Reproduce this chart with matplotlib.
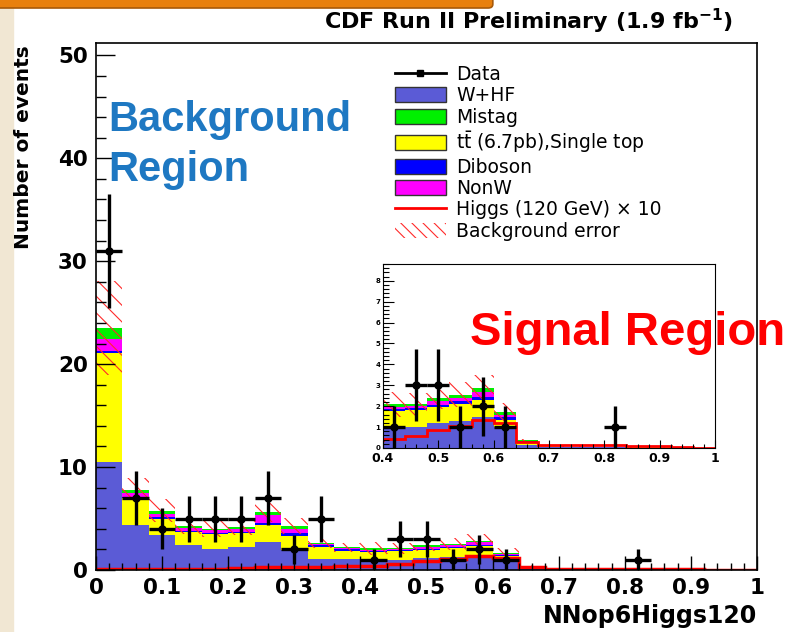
import numpy as np
import matplotlib
matplotlib.use('Agg')
import matplotlib.pyplot as plt
from matplotlib.patches import Patch, Rectangle, FancyBboxPatch
from matplotlib.lines import Line2D
from matplotlib.ticker import MultipleLocator

plt.rcParams['font.family'] = 'DejaVu Sans'
plt.rcParams['hatch.linewidth'] = 0.8

# 25 bins of 0.04 over NN output [0, 1]
edges = np.linspace(0, 1, 26)

whf = [10.5, 4.4, 3.4, 2.4, 2.05, 2.25, 2.75, 1.95, 1.05, 1.1, 1.0, 1.0, 1.2,
       1.3, 1.5, 1.0, 0.15, 0.05, 0.03, 0.03, 0.03, 0.02, 0.02, 0.01, 0.01]
ttbar = [10.6, 2.55, 1.6, 1.3, 1.4, 1.3, 1.65, 1.4, 1.2, 0.75, 0.75, 0.8, 0.75,
         0.8, 0.8, 0.36, 0.15, 0.04, 0.02, 0.02, 0.02, 0.01, 0.01, 0.01, 0.0]
diboson = [0.2, 0.15, 0.12, 0.1, 0.12, 0.13, 0.2, 0.2, 0.15, 0.15, 0.1, 0.1, 0.1,
           0.15, 0.15, 0.1, 0.02, 0.01, 0.01, 0.0, 0.0, 0.0, 0.0, 0.0, 0.0]
nonw = [1.1, 0.4, 0.28, 0.3, 0.28, 0.27, 0.7, 0.4, 0.1, 0.1, 0.1, 0.1, 0.2,
        0.15, 0.25, 0.14, 0.02, 0.01, 0.0, 0.0, 0.0, 0.0, 0.0, 0.0, 0.0]
mistag = [1.1, 0.3, 0.35, 0.18, 0.18, 0.25, 0.35, 0.33, 0.15, 0.1, 0.15, 0.1, 0.15,
          0.15, 0.15, 0.1, 0.02, 0.01, 0.01, 0.01, 0.01, 0.0, 0.0, 0.0, 0.0]
bkg_err = [4.6, 1.1, 1.1, 0.8, 0.8, 0.8, 1.0, 0.8, 0.5, 0.45, 0.6, 0.55, 0.55,
           0.6, 0.65, 0.45, 0.08, 0.02, 0.01, 0.01, 0.01, 0.01, 0.01, 0.0, 0.0]
higgs_x10 = [0.08, 0.08, 0.08, 0.08, 0.08, 0.15, 0.28, 0.3, 0.3, 0.38, 0.42, 0.58, 0.85,
             1.05, 1.35, 1.2, 0.3, 0.13, 0.13, 0.13, 0.13, 0.08, 0.08, 0.04, 0.01]
data = [31, 7, 4, 5, 5, 5, 7, 2, 5, 0, 1, 3, 3,
        1, 2, 1, 0, 0, 0, 0, 1, 0, 0, 0, 0]

xtick_labels = ['0', '0.1', '0.2', '0.3', '0.4', '0.5', '0.6', '0.7', '0.8', '0.9', '1']
inset_xlabels = ['0.4', '0.5', '0.6', '0.7', '0.8', '0.9', '1']

c_whf = '#5b5bd6'
c_mis = '#00f000'
c_tt = '#ffff00'
c_dib = '#0000ff'
c_nonw = '#ff00ff'
c_err = '#ff2a2a'

stack = [(whf, c_whf), (ttbar, c_tt), (diboson, c_dib), (nonw, c_nonw), (mistag, c_mis)]


def draw(ax, lw_h, lw_d, ms):
    left = edges[:-1]
    bottom = np.zeros(len(left))
    for vals, col in stack:
        vals = np.array(vals)
        ax.bar(left, vals, width=0.04, bottom=bottom, align='edge', color=col, lw=0)
        bottom = bottom + vals
    err = np.array(bkg_err)
    ax.bar(left, 2 * err, width=0.04, bottom=bottom - err, align='edge', fill=False,
           hatch='\\\\', edgecolor=c_err, lw=0)
    ax.stairs(higgs_x10, edges, color='red', lw=lw_h)
    d = np.array(data, dtype=float)
    cen = 0.5 * (edges[1:] + edges[:-1])
    m = d > 0
    ax.errorbar(cen[m], d[m], xerr=0.02, yerr=np.sqrt(d[m]), fmt='o', color='k',
                ms=ms, elinewidth=lw_d, capsize=0, zorder=5)


fig = plt.figure(figsize=(7.86, 6.32), dpi=100)

# slide decorations
fig.patches.append(Rectangle((0, 0), 13 / 786, 1, transform=fig.transFigure,
                             color='#f1e7d3', zorder=0))
fig.patches.append(FancyBboxPatch((-0.01, 1 - 8 / 632), 0.637, 0.05,
                                  boxstyle='round,pad=0,rounding_size=0.006',
                                  transform=fig.transFigure, fc='#e8800e',
                                  ec='#a85a0a', lw=1.2, zorder=1))

ax = fig.add_axes([96 / 786, 1 - 570 / 632, 661 / 786, 527 / 632])
draw(ax, 2.5, 2.4, 5)
ax.set_xlim(0, 1)
ax.set_ylim(0, 51.2)
ax.set_xticks(np.linspace(0, 1, 11))
ax.set_xticklabels(xtick_labels)
ax.set_yticks([0, 10, 20, 30, 40, 50])
ax.xaxis.set_minor_locator(MultipleLocator(0.02))
ax.yaxis.set_minor_locator(MultipleLocator(2))
ax.tick_params(which='both', direction='in', top=False, right=False, width=1)
ax.tick_params(which='major', axis='y', length=14, pad=6)
ax.tick_params(which='minor', axis='y', length=7)
ax.tick_params(which='major', axis='x', length=10, pad=6)
ax.tick_params(which='minor', axis='x', length=5)
for lab in ax.get_xticklabels() + ax.get_yticklabels():
    lab.set_fontsize(15.5)
    lab.set_fontweight('bold')
for sp in ax.spines.values():
    sp.set_linewidth(1.2)

ax.set_xlabel('NNop6Higgs120', fontsize=17, fontweight='bold', loc='right', labelpad=4)
fig.text(24 / 786, 1 - 45 / 632, 'Number of events', rotation=90, ha='center', va='top',
         fontsize=14.5, fontweight='bold')
fig.text(733 / 786, 1 - 21 / 632, r'CDF Run II Preliminary (1.9 fb$^{\mathbf{-1}}$)',
         ha='right', va='center', fontsize=16, fontweight='bold')

handles = [
    Line2D([0], [0], color='k', marker='s', ms=4, lw=2),
    Patch(facecolor=c_whf, edgecolor='#333333', lw=1),
    Patch(facecolor=c_mis, edgecolor='#333333', lw=1),
    Patch(facecolor=c_tt, edgecolor='#333333', lw=1),
    Patch(facecolor=c_dib, edgecolor='#333333', lw=1),
    Patch(facecolor=c_nonw, edgecolor='#333333', lw=1),
    Line2D([0], [0], color='red', lw=2),
    Patch(facecolor='none', edgecolor=c_err, hatch='\\\\\\', lw=0),
]
labels = ['Data', 'W+HF', 'Mistag', r'$\mathrm{t\bar{t}}$ (6.7pb),Single top', 'Diboson',
          'NonW', 'Higgs (120 GeV) \u00d7 10', 'Background error']
ax.legend(handles, labels, loc='upper left', bbox_to_anchor=(395 / 786, 1 - 65 / 632),
          bbox_transform=fig.transFigure, frameon=False, fontsize=13.5,
          handlelength=2.7, handleheight=0.85, labelspacing=0.13, handletextpad=0.55,
          borderpad=0, borderaxespad=0)

fig.text(108 / 786, 1 - 120 / 632, 'Background', family='Liberation Sans', fontsize=30,
         fontweight='bold', color='#1e78c2', ha='left', va='center')
fig.text(108 / 786, 1 - 170 / 632, 'Region', family='Liberation Sans', fontsize=30,
         fontweight='bold', color='#1e78c2', ha='left', va='center')

# inset: zoom on the signal region
axi = fig.add_axes([383 / 786, 1 - 448 / 632, 332 / 786, 184 / 632])
draw(axi, 2.0, 2.4, 5)
axi.set_xlim(0.4, 1)
axi.set_ylim(0, 8.8)
axi.set_xticks(np.linspace(0.4, 1, 7))
axi.set_xticklabels(inset_xlabels)
axi.set_yticks(range(9))
axi.xaxis.set_minor_locator(MultipleLocator(0.02))
axi.yaxis.set_minor_locator(MultipleLocator(0.2))
axi.tick_params(which='both', direction='in', top=False, right=False, width=0.8)
axi.tick_params(which='major', axis='y', length=8, pad=2, labelsize=5)
axi.tick_params(which='minor', axis='y', length=4)
axi.tick_params(which='major', axis='x', length=6, pad=3, labelsize=9)
axi.tick_params(which='minor', axis='x', length=3)
for lab in axi.get_xticklabels() + axi.get_yticklabels():
    lab.set_fontweight('bold')

fig.text(470 / 786, 1 - 333 / 632, 'Signal Region', family='Liberation Sans', fontsize=34,
         fontweight='bold', color='red', ha='left', va='center')

fig.savefig('out.png', dpi=100)
